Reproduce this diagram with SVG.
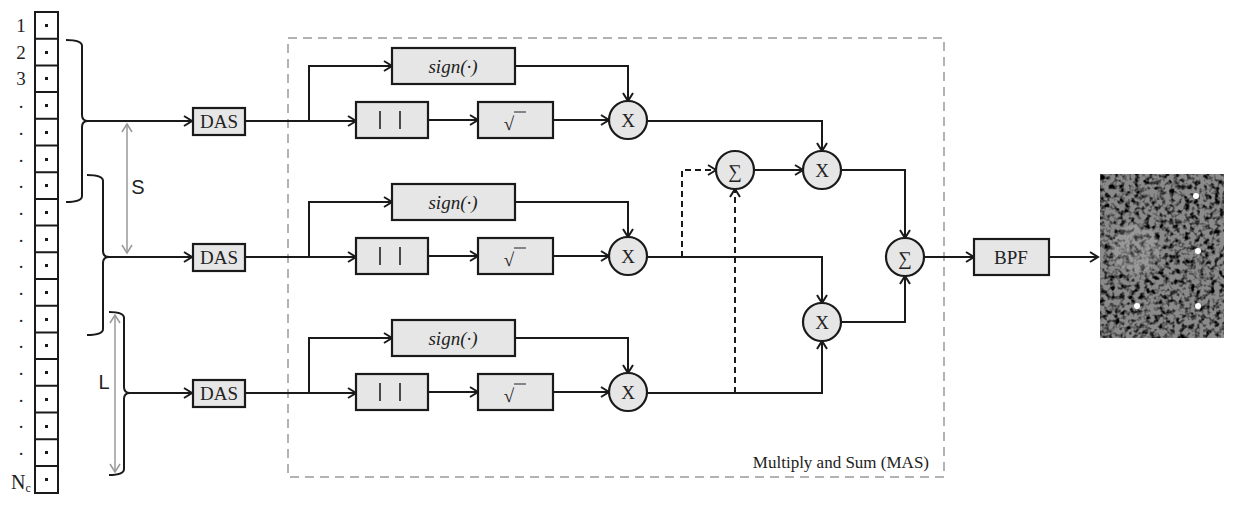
<svg xmlns="http://www.w3.org/2000/svg" width="1236" height="514" viewBox="0 0 1236 514">
<defs>
<style>
.ln{fill:none;stroke:#1a1a1a;stroke-width:2}
.dl{fill:none;stroke:#1a1a1a;stroke-width:2;stroke-dasharray:6,4}
.bx{fill:#e6e6e6;stroke:#1a1a1a;stroke-width:2.2}
.t{font-family:"Liberation Serif",serif;font-size:19px;fill:#222;text-anchor:middle}
.ts{font-family:"Liberation Sans",sans-serif;font-size:20px;fill:#222;text-anchor:middle}
.gr{fill:none;stroke:#999;stroke-width:1.5}
.bar{stroke:#222;stroke-width:1.6}
</style>
<marker id="a" markerWidth="12" markerHeight="12" refX="10" refY="6" orient="auto" markerUnits="userSpaceOnUse">
<path d="M2,1 L10,6 L2,11" fill="none" stroke="#1a1a1a" stroke-width="2"/>
</marker>
<marker id="g" markerWidth="12" markerHeight="12" refX="10" refY="6" orient="auto-start-reverse" markerUnits="userSpaceOnUse">
<path d="M2,1 L10,6 L2,11" fill="none" stroke="#999" stroke-width="1.5"/>
</marker>
<filter id="noise" x="0" y="0" width="1" height="1">
<feTurbulence type="fractalNoise" baseFrequency="0.2" numOctaves="2" seed="4"/>
<feColorMatrix type="matrix" values="0 0 0 0 0  0 0 0 0 0  0 0 0 0 0  0 0 0 -3 1.7"/>
<feComposite in2="SourceGraphic" operator="in"/>
</filter>
</defs>
<rect width="1236" height="514" fill="#fff"/>

<g id="array">
<rect x="35" y="12" width="23" height="481" fill="none" stroke="#1a1a1a" stroke-width="2"/>
<g fill="#1a1a1a">
<path d="M35,38.7H58M35,65.4H58M35,92.1H58M35,118.8H58M35,145.5H58M35,172.2H58M35,198.9H58M35,225.6H58M35,252.3H58M35,279H58M35,305.7H58M35,332.4H58M35,359.1H58M35,385.8H58M35,412.5H58M35,439.2H58M35,465.9H58" stroke="#1a1a1a" stroke-width="2"/>
<rect x="45" y="24" width="3" height="3"/><rect x="45" y="51" width="3" height="3"/><rect x="45" y="77" width="3" height="3"/><rect x="45" y="104" width="3" height="3"/><rect x="45" y="131" width="3" height="3"/><rect x="45" y="158" width="3" height="3"/><rect x="45" y="184" width="3" height="3"/><rect x="45" y="211" width="3" height="3"/><rect x="45" y="238" width="3" height="3"/><rect x="45" y="264" width="3" height="3"/><rect x="45" y="291" width="3" height="3"/><rect x="45" y="318" width="3" height="3"/><rect x="45" y="344" width="3" height="3"/><rect x="45" y="371" width="3" height="3"/><rect x="45" y="398" width="3" height="3"/><rect x="45" y="425" width="3" height="3"/><rect x="45" y="451" width="3" height="3"/><rect x="45" y="478" width="3" height="3"/>
</g>
<text class="t" x="21" y="32" font-size="20">1</text>
<text class="t" x="21" y="59" font-size="20">2</text>
<text class="t" x="21" y="85" font-size="20">3</text>
<g class="t"><text x="21" y="108">.</text><text x="21" y="135">.</text><text x="21" y="162">.</text><text x="21" y="188">.</text><text x="21" y="215">.</text><text x="21" y="242">.</text><text x="21" y="268">.</text><text x="21" y="295">.</text><text x="21" y="322">.</text><text x="21" y="348">.</text><text x="21" y="375">.</text><text x="21" y="402">.</text><text x="21" y="428">.</text><text x="21" y="455">.</text></g>
<text x="11" y="489" font-family="Liberation Serif,serif" font-size="20" fill="#222">N<tspan font-size="12" dy="3">c</tspan></text>
</g>

<g id="brackets" class="ln">
<path d="M66,40 Q82,40 82,46 V115 Q82,121 88,121 Q82,121 82,127 V196 Q82,202 66,202"/>
<path d="M87,175 Q103,175 103,181 V251 Q103,257 109,257 Q103,257 103,263 V329 Q103,335 87,335"/>
<path d="M109,312 Q124,312 124,318 V387 Q124,393 130,393 Q124,393 124,399 V469 Q124,475 109,475"/>
</g>
<g id="dims">
<line class="gr" x1="127" y1="124" x2="127" y2="253" marker-start="url(#g)" marker-end="url(#g)"/>
<text class="ts" x="138" y="194">S</text>
<line class="gr" x1="115" y1="315" x2="115" y2="472" marker-start="url(#g)" marker-end="url(#g)"/>
<text class="ts" x="104" y="389">L</text>
</g>

<rect id="mas" x="288" y="38" width="656" height="439" fill="none" stroke="#999" stroke-width="1.5" stroke-dasharray="9,6"/>
<text x="929" y="468" font-family="Liberation Serif,serif" font-size="17" fill="#222" text-anchor="end">Multiply and Sum (MAS)</text>

<g id="connectors">
<g class="ln" marker-end="url(#a)">
<path d="M88,121H192"/><path d="M109,257H192"/><path d="M130,393H192"/>
<path d="M245,121H356"/><path d="M309,121V66H392"/><path d="M428,120H478"/><path d="M553,120H609"/><path d="M515,66H628V101"/>
<path d="M245,257H356"/><path d="M309,257V202H392"/><path d="M428,256H478"/><path d="M553,256H609"/><path d="M515,202H628V237"/>
<path d="M245,393H356"/><path d="M309,393V338H392"/><path d="M428,392H478"/><path d="M553,392H609"/><path d="M515,338H628V373"/>
<path d="M647,121H822V151"/>
<path d="M647,257H822V303"/>
<path d="M647,393H822V341"/>
<path d="M754,170H803"/>
<path d="M841,170H905V238"/>
<path d="M841,322H905V276"/>
<path d="M924,257H974"/>
<path d="M1049,257H1098"/>
</g>
<g class="dl" marker-end="url(#a)">
<path d="M682,257V170H716"/>
<path d="M735,393V189"/>
</g>
</g>

<g id="das1"><rect class="bx" x="193" y="108" width="52" height="27"/><text class="t" x="219" y="128">DAS</text></g>
<g id="das2"><rect class="bx" x="193" y="244" width="52" height="27"/><text class="t" x="219" y="264">DAS</text></g>
<g id="das3"><rect class="bx" x="193" y="380" width="52" height="27"/><text class="t" x="219" y="400">DAS</text></g>

<g id="row1">
<g id="sign1"><rect class="bx" x="392" y="48" width="123" height="36"/><text class="t" x="453" y="73" font-style="italic" font-size="21">sign(·)</text></g>
<g id="abs1"><rect class="bx" x="356" y="102" width="72" height="36"/><path class="bar" d="M380,111V129M400,111V129"/></g>
<g id="sqrt1"><rect class="bx" x="478" y="102" width="75" height="36"/><text class="t" x="509" y="130" font-size="21">√</text><path d="M514,112H526" stroke="#222" stroke-width="1"/></g>
<g id="mul1"><circle class="bx" cx="628" cy="120" r="19"/><text class="t" x="628" y="127" font-size="20">X</text></g>
</g>
<g id="row2">
<g id="sign2"><rect class="bx" x="392" y="184" width="123" height="36"/><text class="t" x="453" y="209" font-style="italic" font-size="21">sign(·)</text></g>
<g id="abs2"><rect class="bx" x="356" y="238" width="72" height="36"/><path class="bar" d="M380,247V265M400,247V265"/></g>
<g id="sqrt2"><rect class="bx" x="478" y="238" width="75" height="36"/><text class="t" x="509" y="266" font-size="21">√</text><path d="M514,248H526" stroke="#222" stroke-width="1"/></g>
<g id="mul2"><circle class="bx" cx="628" cy="256" r="19"/><text class="t" x="628" y="263" font-size="20">X</text></g>
</g>
<g id="row3">
<g id="sign3"><rect class="bx" x="392" y="320" width="123" height="36"/><text class="t" x="453" y="345" font-style="italic" font-size="21">sign(·)</text></g>
<g id="abs3"><rect class="bx" x="356" y="374" width="72" height="36"/><path class="bar" d="M380,383V401M400,383V401"/></g>
<g id="sqrt3"><rect class="bx" x="478" y="374" width="75" height="36"/><text class="t" x="509" y="402" font-size="21">√</text><path d="M514,384H526" stroke="#222" stroke-width="1"/></g>
<g id="mul3"><circle class="bx" cx="628" cy="392" r="19"/><text class="t" x="628" y="399" font-size="20">X</text></g>
</g>

<g id="sum1"><circle class="bx" cx="735" cy="170" r="19"/><text class="t" x="735" y="178" font-size="24">∑</text></g>
<g id="mul4"><circle class="bx" cx="822" cy="170" r="19"/><text class="t" x="822" y="177" font-size="20">X</text></g>
<g id="mul5"><circle class="bx" cx="822" cy="322" r="19"/><text class="t" x="822" y="329" font-size="20">X</text></g>
<g id="sum2"><circle class="bx" cx="905" cy="257" r="19"/><text class="t" x="905" y="265" font-size="24">∑</text></g>
<g id="bpf"><rect class="bx" x="974" y="239" width="75" height="36"/><text class="t" x="1011" y="264">BPF</text></g>

<g id="image">
<rect x="1100" y="174" width="124" height="164" fill="#8a8a8a"/>
<rect x="1100" y="174" width="124" height="164" fill="#0a0a0a" filter="url(#noise)"/>
<circle cx="1136" cy="249" r="24" fill="#bbb" opacity="0.3"/>
<circle cx="1196" cy="196" r="3" fill="#fff"/>
<circle cx="1198" cy="251" r="3" fill="#fff"/>
<circle cx="1137" cy="306" r="3" fill="#fff"/>
<circle cx="1198" cy="306" r="3" fill="#fff"/>
</g>
</svg>
